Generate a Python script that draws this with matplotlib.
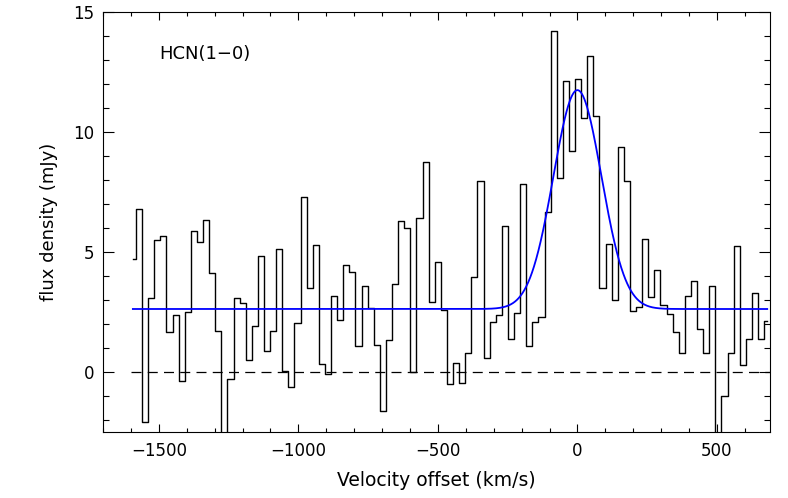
import numpy as np
import matplotlib.pyplot as plt
from matplotlib.ticker import MultipleLocator

# channel velocities (km/s), regular grid of 105 channels
v_first = -1593.
v_last = 680.
n_chan = 105

# flux per channel (mJy)
flux = [4.71, 6.79, -2.07, 3.08, 5.49, 5.65, 1.65, 2.39, -0.36, 2.49,
        5.875, 5.40, 6.35, 4.14, 1.69, -3.2, -0.29, 3.07, 2.86, 0.49,
        1.92, 4.82, 0.86, 1.72, 5.125, 0.06, -0.625, 2.03, 7.31, 3.49,
        5.31, 0.35, -0.08, 3.18, 2.17, 4.47, 4.15, 1.08, 3.60, 2.68,
        1.11, -1.61, 1.32, 3.68, 6.31, 6.0, 0.01, 6.40, 8.76, 2.92,
        4.58, 2.60, -0.51, 0.39, -0.47, 0.78, 3.94, 7.94, 0.60, 2.07,
        2.36, 6.08, 1.375, 2.46, 7.85, 1.07, 2.07, 2.28, 6.65, 14.19,
        8.08, 12.125, 9.21, 12.19, 10.57, 13.18, 10.65, 3.5, 5.33, 3.01,
        9.39, 7.94, 2.53, 2.71, 5.56, 3.125, 4.25, 2.79, 2.40, 1.65,
        0.81, 3.15, 3.81, 1.81, 0.78, 3.57, -3.0, -1.01, 0.81, 5.26,
        0.28, 1.375, 3.28, 1.375, 2.11]

# gaussian fit : continuum, amplitude, centre, sigma
cont = 2.625
amp = 9.12
v0 = 0.
sig = 86.

vel = np.linspace(v_first, v_last, n_chan)
vfit = np.linspace(v_first, v_last, 2000)
ffit = cont + amp*np.exp(-(vfit - v0)**2/(2*sig**2))

fig = plt.figure(figsize=(7.88, 4.98), dpi=100)
ax = fig.add_axes([103/788, 1-432/498, 667/788, 420/498])

ax.step(vel, flux, where='mid', color='black', lw=1.0)
ax.plot(vfit, ffit, color='blue', lw=1.3)
ax.plot([-1600, 700], [0, 0], color='black', lw=0.9, ls=(0, (8, 5)))

ax.text(-1500, 13.25, "HCN(1\u22120)", fontsize=13, ha='left', va='center')

ax.set_xlim(-1700, 690)
ax.set_ylim(-2.5, 15)
ax.xaxis.set_major_locator(MultipleLocator(500))
ax.xaxis.set_minor_locator(MultipleLocator(100))
ax.yaxis.set_major_locator(MultipleLocator(5))
ax.yaxis.set_minor_locator(MultipleLocator(1))
ax.tick_params(axis='both', which='both', direction='in', top=True, right=True,
               labelsize=12, width=0.8)
ax.tick_params(axis='x', which='major', length=5.5, pad=7)
ax.tick_params(axis='x', which='minor', length=3)
ax.tick_params(axis='y', which='major', length=8, pad=6)
ax.tick_params(axis='y', which='minor', length=4.5)
for s in ax.spines.values():
    s.set_linewidth(0.8)

ax.set_xlabel("Velocity offset (km/s)", fontsize=13.5, labelpad=8)
ax.set_ylabel("flux density (mJy)", fontsize=13, labelpad=11)

plt.savefig("out.png", dpi=100)
